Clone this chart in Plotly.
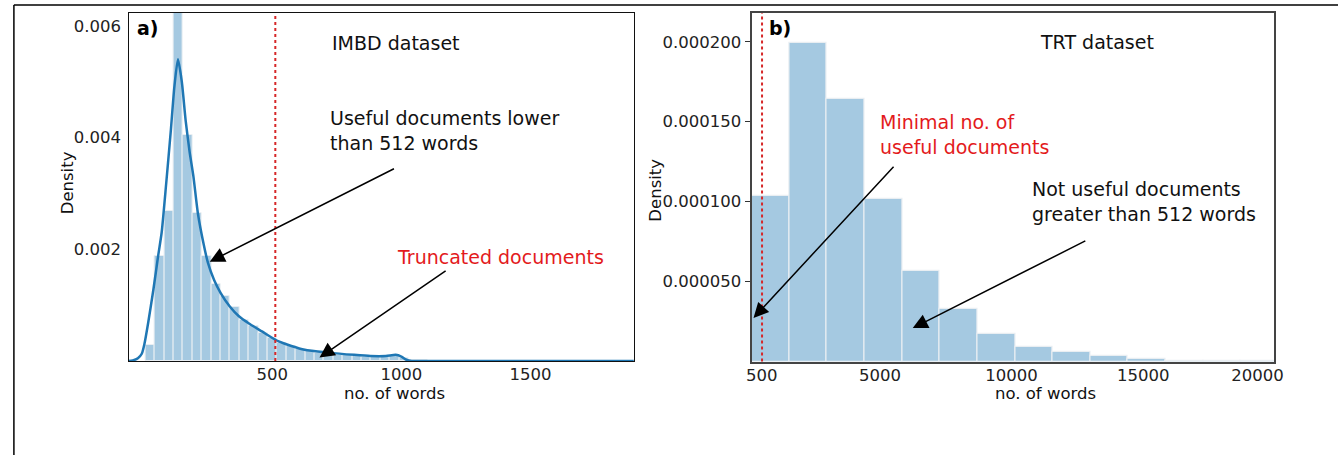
import plotly.graph_objects as go

# ---------------- data ----------------
# Panel a) IMBD: histogram (density) with bins of equal width
imdb_bin_start = 9
imdb_bin_width = 36.4
imdb_density = [0.00029, 0.00188, 0.00269, 0.0068, 0.00404, 0.00265, 0.00188, 0.00137,
                0.00116, 0.00096, 0.00074, 0.00062, 0.00051, 0.00041, 0.00033, 0.00026,
                0.00022, 0.00018, 0.00015, 0.00012, 0.00011, 0.00010, 0.00009, 0.00008,
                0.00008, 0.00007, 0.00009, 0.00005, 0.00002, 0.00001, 0.000005, 0.000003]
# KDE curve
kde_words = [-60, -40, -20, -5, 5, 20, 40, 58, 72, 90, 107, 121, 135, 150, 165, 180, 195, 212,
             235, 251, 275, 300, 335, 371, 410, 460, 525, 625, 716, 817, 880, 940, 978, 1000,
             1020, 1040, 1100, 1900]
kde_density = [0, 0.00001, 0.00005, 0.00013, 0.0003, 0.00069, 0.00128, 0.00187, 0.0023, 0.0032,
               0.0041, 0.0049, 0.0054, 0.0050, 0.0043, 0.00375, 0.0033, 0.00265, 0.00208, 0.00176,
               0.00145, 0.00122, 0.00098, 0.0008, 0.00067, 0.00053, 0.00035, 0.0002, 0.00015,
               0.00011, 0.00009, 0.00009, 0.00011, 0.00008, 0.00002, 0, 0, 0]

# Panel b) TRT: histogram (density)
trt_bin_start = 113
trt_bin_width = 1431
trt_density = [0.0001037, 0.0001994, 0.0001642, 0.0001017, 0.0000569, 0.0000329, 0.0000173,
               0.0000088, 0.0000058, 0.0000036, 0.0000015, 0.0000006, 0.0000002, 0.0000001]

limit_words = 512
left_xticks = [500, 1000, 1500]
left_yticks = [0.002, 0.004, 0.006]
right_xtick_vals = [500, 5000, 10000, 15000, 19350]
right_xtick_text = ["500", "5000", "10000", "15000", "20000"]
right_yticks = [0.00005, 0.0001, 0.00015, 0.0002]

# ---------------- figure ----------------
W, H = 1338, 455
FONT = "DejaVu Sans"
BAR = "#a5c9e1"
BAR_EDGE = "#e9eef2"
BLUE = "#1f77b4"
RED = "#e31a1c"

def px_x(p):
    return p / W

def px_y(p):
    return 1 - p / H

fig = go.Figure()

imdb_x = [imdb_bin_start + imdb_bin_width * (i + 0.5) for i in range(len(imdb_density))]
fig.add_trace(go.Bar(x=imdb_x, y=imdb_density, width=imdb_bin_width,
                     marker=dict(color=BAR, line=dict(color=BAR_EDGE, width=1)),
                     xaxis="x", yaxis="y", showlegend=False, hoverinfo="skip"))
fig.add_trace(go.Scatter(x=kde_words, y=kde_density, mode="lines",
                         line=dict(color=BLUE, width=2.5, shape="spline", smoothing=0.6),
                         xaxis="x", yaxis="y", showlegend=False, hoverinfo="skip"))

trt_x = [trt_bin_start + trt_bin_width * (i + 0.5) for i in range(len(trt_density))]
fig.add_trace(go.Bar(x=trt_x, y=trt_density, width=trt_bin_width,
                     marker=dict(color=BAR, line=dict(color=BAR_EDGE, width=1.2)),
                     xaxis="x2", yaxis="y2", showlegend=False, hoverinfo="skip"))

tickfont = dict(family=FONT, size=16.5, color="#222")

fig.update_layout(
    width=W, height=H,
    margin=dict(l=0, r=0, t=0, b=0),
    paper_bgcolor="white", plot_bgcolor="white",
    bargap=0,
    xaxis=dict(domain=[px_x(125), px_x(636)], range=[-56, 1900],
               tickvals=left_xticks, ticks="", ticklabelstandoff=-2,
               showgrid=False, zeroline=False, showline=True, linecolor="#111", linewidth=1.4,
               mirror=True, tickfont=tickfont, anchor="y"),
    yaxis=dict(domain=[px_y(361), px_y(13)], range=[0, 0.00623],
               tickvals=left_yticks, tickformat=".3f", ticks="outside", ticklen=3,
               tickcolor="rgba(0,0,0,0)",
               showgrid=False, zeroline=False, showline=True, linecolor="#111", linewidth=1.4,
               mirror=True, tickfont=tickfont, anchor="x"),
    xaxis2=dict(domain=[px_x(755), px_x(1283)], range=[113, 19960],
                tickvals=right_xtick_vals, ticktext=right_xtick_text, ticks="",
                ticklabelstandoff=-2,
                showgrid=False, zeroline=False, showline=True, linecolor="#444", linewidth=1.8,
                mirror=True, tickfont=tickfont, anchor="y2"),
    yaxis2=dict(domain=[px_y(361.5), px_y(13)], range=[0, 0.000218],
                tickvals=right_yticks, tickformat=".6f", ticks="outside", ticklen=5,
                tickcolor="#333", tickwidth=1.3,
                showgrid=False, zeroline=False, showline=True, linecolor="#444", linewidth=1.8,
                mirror=True, tickfont=tickfont, anchor="x2"),
)

# limit lines
fig.add_shape(type="line", xref="x", yref="y domain", x0=limit_words, x1=limit_words, y0=0, y1=1,
              line=dict(color="#d62728", width=2, dash="dot"))
fig.add_shape(type="line", xref="x2", yref="y2 domain", x0=limit_words, x1=limit_words, y0=0, y1=1,
              line=dict(color="#d62728", width=2, dash="dot"))

# outer frame
fig.add_shape(type="line", xref="paper", yref="paper", x0=px_x(9), x1=px_x(9), y0=px_y(5), y1=-0.05,
              line=dict(color="black", width=1.5))
fig.add_shape(type="line", xref="paper", yref="paper", x0=px_x(9), x1=1.02, y0=px_y(5), y1=px_y(5),
              line=dict(color="black", width=1.5))

ann_font = dict(family=FONT, size=19, color="#111")
red_font = dict(family=FONT, size=19, color=RED)
title_font = dict(family=FONT, size=16.5, color="#111")

annotations = [
    # panel labels
    dict(text="<b>a)</b>", x=-30, y=0.005955, xref="x", yref="y", xanchor="left", yanchor="middle",
         showarrow=False, font=dict(family=FONT, size=19, color="black")),
    dict(text="<b>b)</b>", x=714, y=0.0002084, xref="x2", yref="y2", xanchor="left", yanchor="middle",
         showarrow=False, font=dict(family=FONT, size=19, color="black")),
    # titles inside
    dict(text="IMBD dataset", x=981, y=0.0057, xref="x", yref="y", xanchor="center", yanchor="middle",
         showarrow=False, font=ann_font),
    dict(text="TRT dataset", x=13231, y=0.0001997, xref="x2", yref="y2", xanchor="center",
         yanchor="middle", showarrow=False, font=ann_font),
    # texts
    dict(text="Useful documents lower<br>than 512 words", x=717, y=0.00413, xref="x", yref="y",
         xanchor="left", yanchor="middle", align="left", showarrow=False, font=ann_font),
    dict(text="Truncated documents", x=977, y=0.001866, xref="x", yref="y",
         xanchor="left", yanchor="middle", showarrow=False, font=red_font),
    dict(text="Minimal no. of<br>useful documents", x=4926, y=0.0001422, xref="x2", yref="y2",
         xanchor="left", yanchor="middle", align="left", showarrow=False, font=red_font),
    dict(text="Not useful documents<br>greater than 512 words", x=10716, y=0.0001003, xref="x2",
         yref="y2", xanchor="left", yanchor="middle", align="left", showarrow=False, font=ann_font),
    # axis titles
    dict(text="Density", x=px_x(63), y=px_y(183), xref="paper", yref="paper", textangle=-90,
         showarrow=False, font=title_font, xanchor="center", yanchor="middle"),
    dict(text="no. of words", x=px_x(394), y=px_y(393), xref="paper", yref="paper",
         showarrow=False, font=title_font, xanchor="center", yanchor="middle"),
    dict(text="Density", x=px_x(657), y=px_y(190), xref="paper", yref="paper", textangle=-90,
         showarrow=False, font=title_font, xanchor="center", yanchor="middle"),
    dict(text="no. of words", x=px_x(1052), y=px_y(393), xref="paper", yref="paper",
         showarrow=False, font=title_font, xanchor="center", yanchor="middle"),
]

arrows = [
    ("x", "y", 258, 0.001777, 977, 0.003455),
    ("x", "y", 683, 0.0000625, 1177, 0.001634),
    ("x2", "y2", 188, 0.0000272, 5565, 0.0001228),
    ("x2", "y2", 6241, 0.0000209, 12859, 0.0000759),
]
for xr, yr, tx, ty, sx, sy in arrows:
    annotations.append(dict(text="", x=tx, y=ty, ax=sx, ay=sy, xref=xr, yref=yr, axref=xr, ayref=yr,
                            showarrow=True, arrowhead=2, arrowsize=2, arrowwidth=1.5,
                            arrowcolor="black", standoff=0, startstandoff=0))

fig.update_layout(annotations=annotations)

fig.write_html("out.html", config={"displayModeBar": False})

# remove the default page margin so the figure sits at the window origin
with open("out.html", "r", encoding="utf-8") as f:
    html = f.read()
html = html.replace("<head>", "<head><style>html,body{margin:0;padding:0;overflow:hidden;}</style>", 1)
with open("out.html", "w", encoding="utf-8") as f:
    f.write(html)
